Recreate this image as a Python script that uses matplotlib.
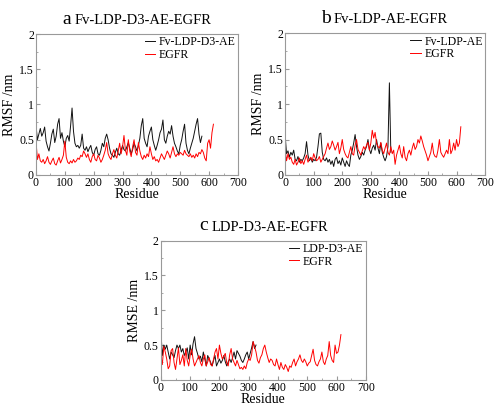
import numpy as np
import matplotlib
matplotlib.use("Agg")
import matplotlib.pyplot as plt
from matplotlib.ticker import MultipleLocator

plt.rcParams['font.family'] = ['Liberation Serif', 'DejaVu Serif']

STEP = 5  # residue spacing of the values

# panel a: Fv-LDP-D3-AE-EGFR
a_complex = [0.70, 0.50, 0.58, 0.66, 0.55, 0.60, 0.68, 0.48, 0.40, 0.34,
             0.45, 0.58, 0.65, 0.46, 0.55, 0.72, 0.80, 0.52, 0.60, 0.48,
             0.40, 0.52, 0.56, 0.48, 0.70, 0.95, 0.62, 0.45, 0.40, 0.42,
             0.38, 0.42, 0.58, 0.38, 0.35, 0.40, 0.33, 0.38, 0.42, 0.32,
             0.28, 0.36, 0.40, 0.30, 0.28, 0.35, 0.45, 0.40, 0.52, 0.58,
             0.50, 0.38, 0.30, 0.28, 0.25, 0.32, 0.38, 0.30, 0.28, 0.35,
             0.42, 0.36, 0.34, 0.40, 0.46, 0.38, 0.30, 0.36, 0.45, 0.40,
             0.34, 0.42, 0.52, 0.70, 0.80, 0.52, 0.45, 0.40, 0.55, 0.62,
             0.68, 0.50, 0.42, 0.35, 0.42, 0.50, 0.60, 0.65, 0.78, 0.50,
             0.45, 0.55, 0.62, 0.58, 0.70, 0.55, 0.45, 0.40, 0.34, 0.30,
             0.42, 0.50, 0.62, 0.72, 0.45, 0.35, 0.30, 0.38, 0.45, 0.52,
             0.62, 0.72, 0.80, 0.58, 0.46, 0.55]
a_egfr = [0.48, 0.22, 0.30, 0.20, 0.18, 0.22, 0.16, 0.20, 0.26, 0.18,
          0.15, 0.20, 0.24, 0.16, 0.14, 0.20, 0.25, 0.17, 0.22, 0.28,
          0.48, 0.25, 0.18, 0.16, 0.20, 0.17, 0.22, 0.18, 0.20, 0.24,
          0.22, 0.28, 0.26, 0.34, 0.30, 0.25, 0.30, 0.22, 0.18, 0.26,
          0.30, 0.22, 0.20, 0.28, 0.24, 0.18, 0.22, 0.28, 0.35, 0.46,
          0.30, 0.25, 0.22, 0.30, 0.36, 0.28, 0.24, 0.34, 0.45, 0.30,
          0.40, 0.56, 0.35, 0.28, 0.50, 0.34, 0.26, 0.40, 0.50, 0.32,
          0.28, 0.46, 0.34, 0.26, 0.22, 0.28, 0.24, 0.30, 0.26, 0.40,
          0.30, 0.22, 0.26, 0.20, 0.22, 0.18, 0.24, 0.30, 0.26, 0.22,
          0.28, 0.34, 0.30, 0.24, 0.32, 0.40, 0.30, 0.26, 0.30, 0.28,
          0.32, 0.30, 0.28, 0.35, 0.30, 0.28, 0.26, 0.30, 0.25, 0.28,
          0.24, 0.30, 0.26, 0.32, 0.30, 0.36, 0.32, 0.24, 0.20, 0.45,
          0.50, 0.38, 0.60, 0.72]

# panel b: Fv-LDP-AE-EGFR
b_complex = [0.56, 0.30, 0.34, 0.25, 0.32, 0.28, 0.35, 0.22, 0.20, 0.26,
             0.18, 0.22, 0.20, 0.24, 0.30, 0.47, 0.28, 0.20, 0.24, 0.18,
             0.22, 0.20, 0.25, 0.40, 0.58, 0.59, 0.32, 0.22, 0.20, 0.24,
             0.18, 0.22, 0.15, 0.20, 0.12, 0.22, 0.25, 0.16, 0.20, 0.14,
             0.24, 0.18, 0.12, 0.20, 0.15, 0.12, 0.28, 0.35, 0.45, 0.57,
             0.40, 0.28, 0.22, 0.26, 0.32, 0.28, 0.35, 0.40, 0.50, 0.36,
             0.30, 0.38, 0.42, 0.35, 0.50, 0.38, 0.30, 0.45, 0.32, 0.25,
             0.20, 0.26, 0.40, 1.30, 0.32]
b_egfr = [0.36, 0.20, 0.30, 0.22, 0.25, 0.18, 0.15, 0.22, 0.14, 0.18,
          0.24, 0.16, 0.20, 0.15, 0.22, 0.28, 0.18, 0.22, 0.25, 0.20,
          0.30, 0.24, 0.20, 0.22, 0.26, 0.18, 0.22, 0.26, 0.30, 0.38,
          0.45, 0.36, 0.40, 0.48, 0.42, 0.35, 0.40, 0.46, 0.30, 0.38,
          0.50, 0.36, 0.30, 0.26, 0.24, 0.32, 0.40, 0.30, 0.28, 0.42,
          0.50, 0.36, 0.32, 0.28, 0.34, 0.40, 0.36, 0.42, 0.46, 0.35,
          0.45, 0.63, 0.52, 0.60, 0.45, 0.40, 0.38, 0.46, 0.35, 0.30,
          0.38, 0.45, 0.32, 0.28, 0.40, 0.30, 0.35, 0.15, 0.28, 0.35,
          0.42, 0.30, 0.24, 0.40, 0.25, 0.20, 0.30, 0.35, 0.28, 0.38,
          0.45, 0.36, 0.40, 0.50, 0.45, 0.55, 0.48, 0.40, 0.34, 0.28,
          0.20, 0.26, 0.32, 0.45, 0.30, 0.26, 0.25, 0.35, 0.50, 0.32,
          0.28, 0.25, 0.30, 0.35, 0.30, 0.50, 0.30, 0.35, 0.45, 0.35,
          0.50, 0.40, 0.45, 0.68]

# panel c: LDP-D3-AE-EGFR
c_complex = [0.70, 0.35, 0.50, 0.44, 0.50, 0.40, 0.30, 0.40, 0.36, 0.32,
             0.42, 0.50, 0.45, 0.50, 0.40, 0.45, 0.35, 0.40, 0.46, 0.30,
             0.50, 0.36, 0.52, 0.62, 0.45, 0.38, 0.30, 0.34, 0.26, 0.40,
             0.30, 0.20, 0.35, 0.30, 0.25, 0.20, 0.28, 0.35, 0.20, 0.25,
             0.30, 0.24, 0.28, 0.35, 0.26, 0.20, 0.26, 0.30, 0.25, 0.32,
             0.40, 0.30, 0.42, 0.38, 0.34, 0.28, 0.25, 0.30, 0.36, 0.40,
             0.30, 0.38, 0.46, 0.55, 0.45, 0.50]
c_egfr = [0.35, 0.22, 0.48, 0.40, 0.30, 0.16, 0.20, 0.42, 0.45, 0.25,
          0.15, 0.30, 0.46, 0.22, 0.28, 0.36, 0.20, 0.45, 0.28, 0.20,
          0.35, 0.44, 0.30, 0.20, 0.25, 0.30, 0.35, 0.25, 0.20, 0.30,
          0.36, 0.20, 0.26, 0.32, 0.22, 0.20, 0.30, 0.40, 0.45, 0.30,
          0.50, 0.38, 0.30, 0.34, 0.38, 0.24, 0.20, 0.36, 0.45, 0.30,
          0.25, 0.20, 0.28, 0.22, 0.16, 0.18, 0.15, 0.20, 0.16, 0.25,
          0.30, 0.28, 0.36, 0.55, 0.48, 0.40, 0.28, 0.24, 0.32, 0.36,
          0.45, 0.50, 0.40, 0.32, 0.25, 0.30, 0.28, 0.22, 0.20, 0.30,
          0.22, 0.15, 0.25, 0.18, 0.15, 0.22, 0.18, 0.12, 0.20, 0.18,
          0.25, 0.30, 0.20, 0.26, 0.30, 0.36, 0.28, 0.25, 0.30, 0.26,
          0.20, 0.24, 0.26, 0.35, 0.44, 0.28, 0.22, 0.20, 0.26, 0.30,
          0.40, 0.26, 0.22, 0.30, 0.35, 0.55, 0.35, 0.28, 0.25, 0.50,
          0.38, 0.40, 0.50, 0.65]

panels = [
    # letter, title, complex label, ylabel, complex, egfr, axes rect
    ("a", "Fv-LDP-D3-AE-EGFR", "Fv-LDP-D3-AE", "RMSF /nm", a_complex, a_egfr,
     [0.0727, 0.568, 0.408, 0.348]),
    ("b", "Fv-LDP-AE-EGFR", "Fv-LDP-AE", "RMSF /nm", b_complex, b_egfr,
     [0.576, 0.568, 0.404, 0.350]),
    ("c", "LDP-D3-AE-EGFR", "LDP-D3-AE", "RMSE /nm", c_complex, c_egfr,
     [0.325, 0.062, 0.414, 0.344]),
]

fig = plt.figure(figsize=(4.95, 4.05), dpi=100)

for letter, title, lab, ylab, cplx, egfr, rect in panels:
    ax = fig.add_axes(rect)
    xc = np.arange(len(cplx)) * STEP
    xe = np.arange(len(egfr)) * STEP
    ax.plot(xc, cplx, color="#111111", lw=0.7, label=lab)
    ax.plot(xe, egfr, color="red", lw=0.7, label="EGFR")
    ax.set_xlim(0, 700)
    ax.set_ylim(0, 2)
    ax.xaxis.set_major_locator(MultipleLocator(100))
    ax.xaxis.set_minor_locator(MultipleLocator(50))
    ax.yaxis.set_minor_locator(MultipleLocator(0.25))
    ax.set_yticks([0, 0.5, 1, 1.5, 2], ["0", "0.5", "1", "1.5", "2"])
    ax.tick_params(which="both", direction="in", color="#999999", labelsize=8.5, pad=1.5)
    ax.tick_params(which="major", length=3)
    ax.tick_params(which="minor", length=1.5)
    for s in ax.spines.values():
        s.set_color("#999999")
        s.set_linewidth(0.8)
    ax.set_xlabel("Residue", fontsize=10, labelpad=-0.5)
    ax.set_ylabel(ylab, fontsize=10, labelpad=2)
    ax.legend(loc="upper right", frameon=False, fontsize=8.5, handlelength=0.9,
              handletextpad=0.3, borderaxespad=0.0, labelspacing=0.05,
              borderpad=0.2)
    # title: bigger panel letter + name
    t = ax.text(0.53, 1.05, title, transform=ax.transAxes, fontsize=10.5,
                ha="center", va="bottom")
    ax.annotate(letter, xy=(0, 0), xycoords=t, xytext=(-2.5, -0.5),
                textcoords="offset points", fontsize=14, ha="right", va="bottom")

fig.savefig("out.png", dpi=100)
